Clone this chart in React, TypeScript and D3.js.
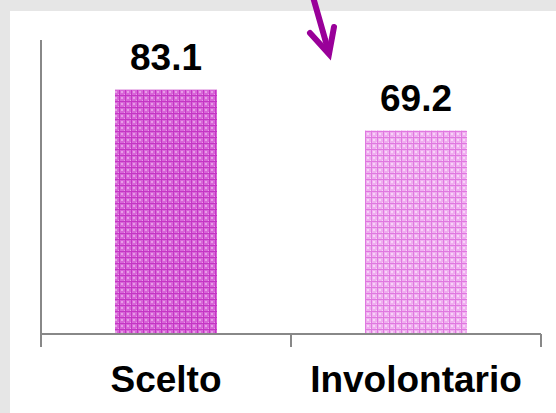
import React from "react";
import * as d3 from "d3";

const categories: string[] = ["Scelto", "Involontario"];
const values: number[] = [83.1, 69.2];
const yDomain: [number, number] = [0, 100];

const W = 556;
const H = 413;
const plot = { left: 41, right: 541, top: 40, bottom: 334 };

const fills = [
  { id: "pat-scelto", base: "#d866d8", light: "#e79ee7", dark: "#c436c4" },
  { id: "pat-invol", base: "#efaeef", light: "#f8d4f8", dark: "#e078e0" },
];

export default function App() {
  const x = d3
    .scaleBand<string>()
    .domain(categories)
    .range([plot.left, plot.right])
    .paddingInner(0)
    .paddingOuter(0);
  const y = d3.scaleLinear().domain(yDomain).range([plot.bottom, plot.top]);
  const barW = x.bandwidth() * 0.408;
  const tickXs = [plot.left, ...categories.map((c) => (x(c) as number) + x.bandwidth())];
  const font = "'Liberation Sans', Arial, sans-serif";

  return (
    <svg
      width={W}
      height={H}
      style={{ position: "absolute", left: 0, top: 0, display: "block" }}
    >
      <defs>
        {fills.map((f) => (
          <pattern key={f.id} id={f.id} width={6} height={6} patternUnits="userSpaceOnUse">
            <rect width={6} height={6} fill={f.base} />
            <rect x={1} y={1} width={2} height={2} fill={f.light} />
            <rect x={4} y={4} width={1} height={1} fill={f.light} />
            <rect x={5} y={0} width={1} height={6} fill={f.dark} />
            <rect x={0} y={5} width={6} height={1} fill={f.dark} />
          </pattern>
        ))}
      </defs>
      <rect width={W} height={H} fill="#e6e6e6" />
      <rect x={10} y={11} width={W - 10} height={H - 11} fill="#ffffff" />

      {categories.map((c, i) => {
        const cx = (x(c) as number) + x.bandwidth() / 2;
        const top = y(values[i]);
        return (
          <g key={c}>
            <rect
              x={cx - barW / 2}
              y={top}
              width={barW}
              height={plot.bottom - top}
              fill={`url(#${fills[i].id})`}
            />
            <text
              x={cx}
              y={top - 20}
              textAnchor="middle"
              fontFamily={font}
              fontWeight="bold"
              fontSize={37}
              fill="#000"
            >
              {values[i].toFixed(1)}
            </text>
            <text
              x={cx}
              y={392}
              textAnchor="middle"
              fontFamily={font}
              fontWeight="bold"
              fontSize={37}
              fill="#000"
            >
              {c}
            </text>
          </g>
        );
      })}

      {/* axes */}
      <line x1={plot.left} y1={plot.top} x2={plot.left} y2={plot.bottom} stroke="#888" strokeWidth={2} />
      <line x1={plot.left} y1={plot.bottom} x2={plot.right} y2={plot.bottom} stroke="#888" strokeWidth={2} />
      {tickXs.map((tx, i) => (
        <line key={i} x1={tx} y1={plot.bottom} x2={tx} y2={347} stroke="#888" strokeWidth={2} />
      ))}

      {/* pointer arrow */}
      <g stroke="#990099" strokeWidth={6} strokeLinecap="round" fill="none">
        <line x1={313} y1={-3} x2={329} y2={53} />
        <polyline points="310,33 329,54 334,27" strokeLinejoin="miter" />
      </g>
    </svg>
  );
}
